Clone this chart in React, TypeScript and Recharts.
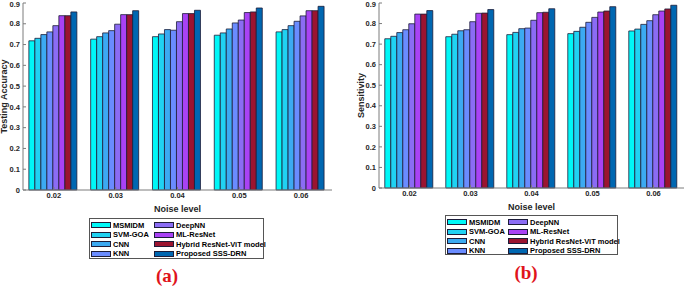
import React from 'react';
import { BarChart, Bar, XAxis, YAxis } from 'recharts';

const noiseLevels = ['0.02', '0.03', '0.04', '0.05', '0.06'];

const models = [
  'MSMIDM',
  'SVM-GOA',
  'CNN',
  'KNN',
  'DeepNN',
  'ML-ResNet',
  'Hybrid ResNet-ViT model',
  'Proposed SSS-DRN',
];

const modelColors = ['#00f7f7', '#20d2f2', '#3caaf2', '#6a8cff', '#8b6cf4', '#a942f5', '#9b1430', '#0067b1'];

const yTicks = [0, 0.1, 0.2, 0.3, 0.4, 0.5, 0.6, 0.7, 0.8, 0.9];

// testing accuracy, one list per model over the noise levels
const msmidmAccuracy = [0.718, 0.726, 0.738, 0.745, 0.761];
const svmGoaAccuracy = [0.73, 0.738, 0.751, 0.756, 0.772];
const cnnAccuracy = [0.748, 0.756, 0.772, 0.775, 0.791];
const knnAccuracy = [0.761, 0.767, 0.769, 0.804, 0.812];
const deepNnAccuracy = [0.791, 0.798, 0.81, 0.818, 0.838];
const mlResNetAccuracy = [0.839, 0.844, 0.849, 0.854, 0.863];
const hybridAccuracy = [0.839, 0.844, 0.849, 0.857, 0.863];
const proposedAccuracy = [0.857, 0.863, 0.865, 0.876, 0.884];

// sensitivity
const msmidmSensitivity = [0.726, 0.736, 0.746, 0.751, 0.764];
const svmGoaSensitivity = [0.738, 0.748, 0.757, 0.762, 0.773];
const cnnSensitivity = [0.756, 0.765, 0.775, 0.782, 0.796];
const knnSensitivity = [0.77, 0.77, 0.778, 0.806, 0.814];
const deepNnSensitivity = [0.799, 0.809, 0.816, 0.83, 0.843];
const mlResNetSensitivity = [0.846, 0.85, 0.853, 0.856, 0.861];
const hybridSensitivity = [0.846, 0.851, 0.855, 0.861, 0.871];
const proposedSensitivity = [0.863, 0.868, 0.872, 0.882, 0.889];

const accuracySeries = [
  msmidmAccuracy, svmGoaAccuracy, cnnAccuracy, knnAccuracy,
  deepNnAccuracy, mlResNetAccuracy, hybridAccuracy, proposedAccuracy,
];
const sensitivitySeries = [
  msmidmSensitivity, svmGoaSensitivity, cnnSensitivity, knnSensitivity,
  deepNnSensitivity, mlResNetSensitivity, hybridSensitivity, proposedSensitivity,
];

const keyOf = (i: number) => `m${i}`;

const buildRows = (series: number[][]) =>
  noiseLevels.map((noise, i) => {
    const row: Record<string, string | number> = { noise };
    series.forEach((values, j) => {
      row[keyOf(j)] = values[i];
    });
    return row;
  });

const axisGray = '#7c7c7c';
const textDark = '#262626';
const tickStyle = { fontSize: 7.5, fontWeight: 700, fill: textDark };
const fmt = (v: number) => (v === 0 ? '0' : v.toFixed(1));

type PanelProps = {
  left: number;
  width: number;
  height: number;
  yAxisWidth: number;
  marginRight: number;
  title: string;
  titleOffset: number;
  series: number[][];
};

const Panel = ({ left, width, height, yAxisWidth, marginRight, title, titleOffset, series }: PanelProps) => (
  <div style={{ position: 'absolute', left, top: 0 }}>
    <BarChart
      width={width}
      height={height}
      data={buildRows(series)}
      margin={{ top: 3, right: marginRight, bottom: 5, left: 0 }}
      barCategoryGap="9.5%"
      barGap={0}
    >
      <XAxis
        dataKey="noise"
        height={22}
        stroke={axisGray}
        tickSize={-3}
        tickMargin={6}
        tick={tickStyle}
        label={{ value: 'Noise level', position: 'insideBottom', offset: 0, style: { fontSize: 9, fontWeight: 700, fill: textDark } }}
      />
      <XAxis xAxisId="top" dataKey="noise" orientation="top" height={0} stroke={axisGray} tickSize={-3} tick={() => <g />} />
      <YAxis
        width={yAxisWidth}
        domain={[0, 0.9]}
        ticks={yTicks}
        stroke={axisGray}
        tickSize={-3}
        tickMargin={6}
        tick={tickStyle}
        tickFormatter={fmt}
        label={{
          value: title,
          angle: -90,
          position: 'insideLeft',
          offset: titleOffset,
          style: { textAnchor: 'middle', fontSize: 9, fontWeight: 700, fill: textDark },
        }}
      />
      <YAxis
        yAxisId="right"
        orientation="right"
        width={0}
        domain={[0, 0.9]}
        ticks={yTicks}
        stroke={axisGray}
        tickSize={-3}
        tick={() => <g />}
      />
      {models.map((m, i) => (
        <Bar
          key={m}
          dataKey={keyOf(i)}
          name={m}
          fill={modelColors[i]}
          stroke="#1c1c38"
          strokeWidth={0.8}
          isAnimationActive={false}
        />
      ))}
    </BarChart>
  </div>
);

type LegendProps = { left: number; top: number; width: number; height: number; col2: number };

const LegendBox = ({ left, top, width, height, col2 }: LegendProps) => (
  <div
    style={{
      position: 'absolute',
      left,
      top,
      width,
      height,
      boxSizing: 'border-box',
      border: '1px solid #555',
      background: '#fff',
    }}
  >
    {models.map((m, i) => {
      const x = i < 4 ? 1 : col2;
      const y = 1.5 + (i % 4) * 9.6;
      return (
        <div key={m} style={{ position: 'absolute', left: x, top: y, height: 9, whiteSpace: 'nowrap' }}>
          <div
            style={{
              position: 'absolute',
              left: 0,
              top: 1.5,
              width: 20,
              height: 6,
              boxSizing: 'border-box',
              background: modelColors[i],
              border: '1px solid #1c1c38',
            }}
          />
          <span
            style={{
              position: 'absolute',
              left: 22,
              top: 0,
              fontSize: 7.5,
              lineHeight: '9px',
              fontWeight: 700,
              color: '#000',
            }}
          >
            {m}
          </span>
        </div>
      );
    })}
  </div>
);

const panelLabel = (text: string, cx: number, cy: number) => (
  <div
    style={{
      position: 'absolute',
      left: cx - 20,
      top: cy - 11,
      width: 40,
      textAlign: 'center',
      fontFamily: '"Liberation Serif", serif',
      fontWeight: 700,
      fontSize: 19,
      lineHeight: '22px',
      color: '#e0141b',
    }}
  >
    {text}
  </div>
);

export default function App() {
  return (
    <div
      style={{
        position: 'absolute',
        left: 0,
        top: 0,
        width: 685,
        height: 286,
        background: '#fff',
        fontFamily: '"Liberation Sans", Arial, sans-serif',
        overflow: 'hidden',
      }}
    >
      <Panel
        left={0}
        width={342}
        height={217}
        yAxisWidth={23}
        marginRight={10}
        title="Testing Accuracy"
        titleOffset={4}
        series={accuracySeries}
      />
      <Panel
        left={340}
        width={345}
        height={215}
        yAxisWidth={39}
        marginRight={1}
        title="Sensitivity"
        titleOffset={21}
        series={sensitivitySeries}
      />
      <LegendBox left={89} top={218} width={175} height={41} col2={64} />
      <LegendBox left={445} top={215} width={173} height={40} col2={62} />
      {panelLabel('(a)', 167, 276)}
      {panelLabel('(b)', 526, 273)}
    </div>
  );
}
